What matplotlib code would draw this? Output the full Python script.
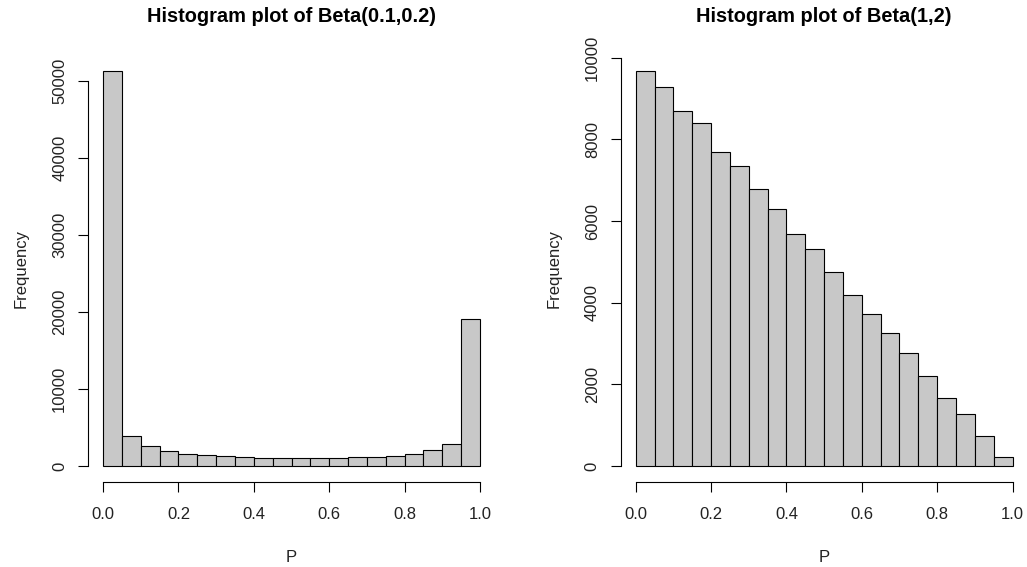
import numpy as np
import matplotlib
matplotlib.use("Agg")
import matplotlib.pyplot as plt

# bin edges shared by both histograms (20 bins of width 0.05)
bin_edges = np.linspace(0, 1, 21)

# counts
counts_beta_01_02 = [51300, 3950, 2600, 1950, 1600, 1470, 1300, 1210, 1120, 1080,
                     1080, 1080, 1120, 1170, 1250, 1380, 1640, 2080, 2900, 19100]
counts_beta_1_2 = [9680, 9280, 8700, 8400, 7700, 7350, 6780, 6290, 5690, 5310,
                   4760, 4200, 3720, 3270, 2780, 2200, 1670, 1280, 750, 235]

titles = ["Histogram plot of Beta(0.1,0.2)", "Histogram plot of Beta(1,2)"]
x_ticks = [0.0, 0.2, 0.4, 0.6, 0.8, 1.0]
y_ticks_left = [0, 10000, 20000, 30000, 40000, 50000]
y_ticks_right = [0, 2000, 4000, 6000, 8000, 10000]

plt.rcParams['font.family'] = ['Liberation Sans', 'DejaVu Sans']
plt.rcParams['font.size'] = 12

W, H = 1027, 567
fig = plt.figure(figsize=(W / 100, H / 100), dpi=100)

panels = [
    (88, counts_beta_01_02, y_ticks_left, titles[0]),
    (620.6, counts_beta_1_2, y_ticks_right, titles[1]),
]

for left_px, counts, yticks, title in panels:
    ax = fig.add_axes([left_px / W, 1 - 482 / H, 407 / W, 427 / H])
    ax.bar(bin_edges[:-1], counts, width=np.diff(bin_edges), align='edge',
           color='#C8C8C8', edgecolor='black', linewidth=0.8)

    ymax = max(counts)
    ax.set_xlim(-0.04, 1.04)
    ax.set_ylim(-0.04 * ymax, 1.04 * ymax)

    for side in ['top', 'right']:
        ax.spines[side].set_visible(False)
    ax.spines['left'].set_bounds(yticks[0], yticks[-1])
    ax.spines['bottom'].set_bounds(x_ticks[0], x_ticks[-1])
    for side in ['left', 'bottom']:
        ax.spines[side].set_linewidth(0.8)

    ax.set_xticks(x_ticks)
    ax.set_xticklabels([f"{v:.1f}" for v in x_ticks])
    ax.set_yticks(yticks)
    ax.set_yticklabels([str(v) for v in yticks], rotation=90, va='center')
    ax.tick_params(axis='x', length=7, width=0.8, pad=11, labelcolor='#222222')
    ax.tick_params(axis='y', length=7, width=0.8, pad=8, labelcolor='#222222')

    ax.set_xlabel("P", labelpad=20, color='#222222')
    ax.set_ylabel("Frequency", labelpad=17, color='#222222')
    ax.set_title(title, fontsize=14.4, fontweight='bold', pad=24)

plt.savefig('out.png', dpi=100)
